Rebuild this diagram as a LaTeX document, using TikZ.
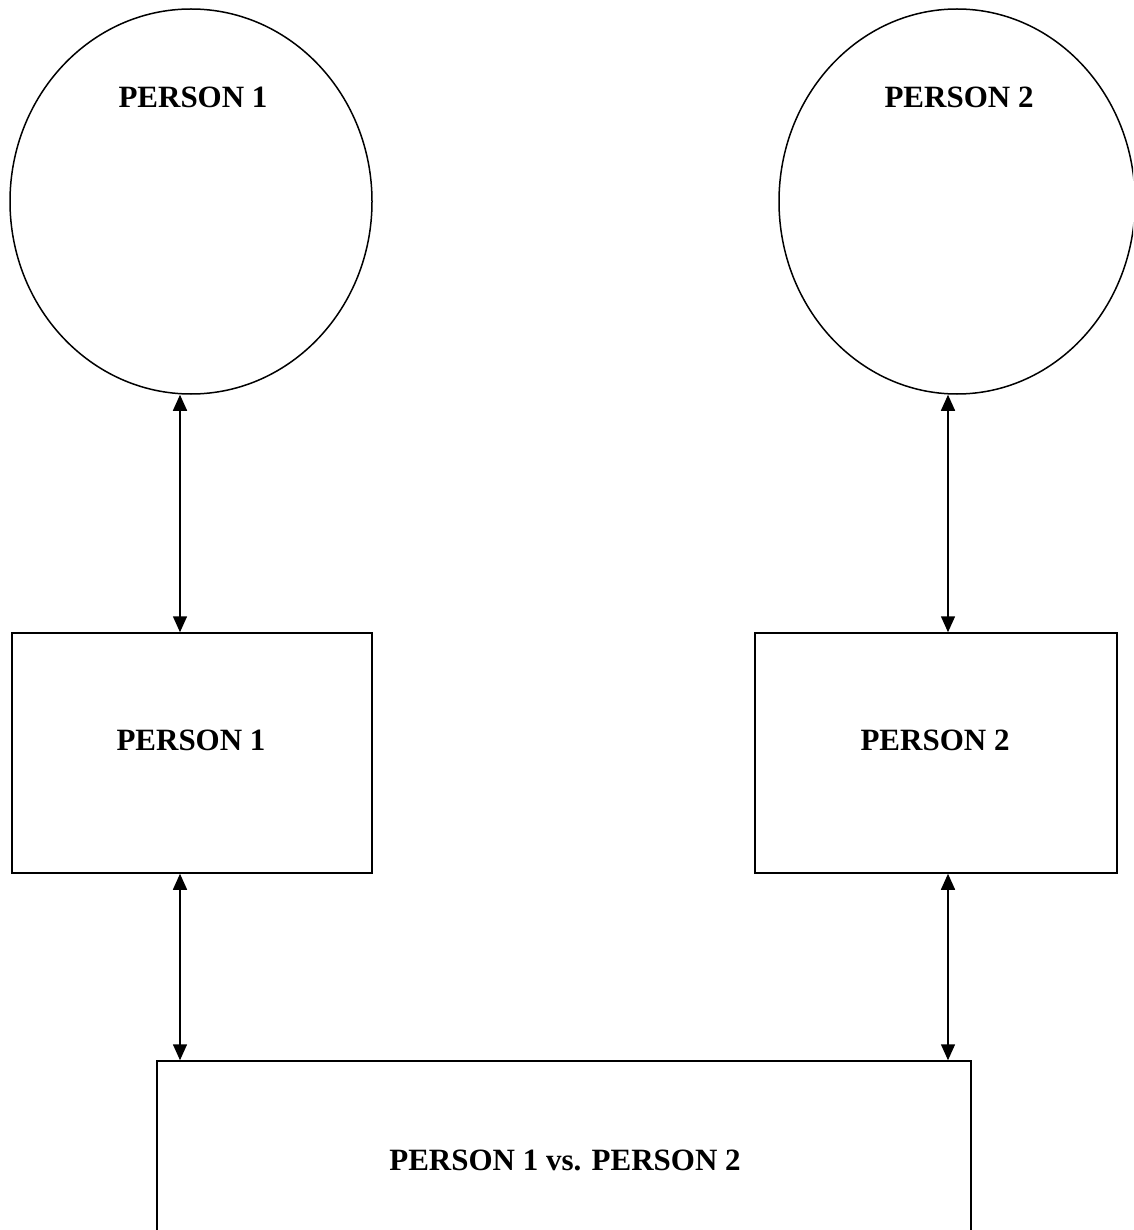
\documentclass[tikz,border=0pt]{standalone}
\usepackage{fontspec}
\setmainfont{Liberation Serif}
\usetikzlibrary{shapes.geometric,arrows.meta}
\begin{document}
\begin{tikzpicture}[x=1pt,y=-1pt,
  ell/.style={draw,line width=1.5pt,ellipse,inner sep=0pt},
  box/.style={draw,line width=1.5pt,rectangle,inner sep=0pt},
  lbl/.style={font=\fontsize{31}{37}\selectfont\bfseries,inner sep=0pt},
  link/.style={line width=1.5pt,{Triangle[width=14pt,length=16pt]}-{Triangle[width=14pt,length=16pt]}}]
\useasboundingbox (0,0) rectangle (1133,1230);
\clip (0,0) rectangle (1133,1230);
\fill[white] (0,0) rectangle (1133,1230);
% ellipses
\node[ell,minimum width=362pt,minimum height=385pt] (e1) at (191,201.5) {};
\node[ell,minimum width=356pt,minimum height=385pt] (e2) at (957,201.5) {};
\node[lbl] (t1) at (193,97) {PERSON 1};
\node[lbl] (t2) at (959,97) {PERSON 2};
% boxes
\node[box,minimum width=360pt,minimum height=240pt] (b1) at (192,753) {};
\node[box,minimum width=362pt,minimum height=240pt] (b2) at (936,753) {};
\node[lbl] (tb1) at (191,740) {PERSON 1};
\node[lbl] (tb2) at (935,740) {PERSON 2};
% bottom box
\node[box,minimum width=814pt,minimum height=400pt] (b3) at (564,1261) {};
\node[lbl] (tb3) at (565,1160) {PERSON 1 vs. PERSON 2};
% connectors
\coordinate (a1) at (180,0);
\coordinate (a2) at (948,0);
\draw[link] (a1 |- e1.south) -- (a1 |- b1.north);
\draw[link] (a2 |- e2.south) -- (a2 |- b2.north);
\draw[link] (a1 |- b1.south) -- (a1 |- b3.north);
\draw[link] (a2 |- b2.south) -- (a2 |- b3.north);
\end{tikzpicture}
\end{document}
